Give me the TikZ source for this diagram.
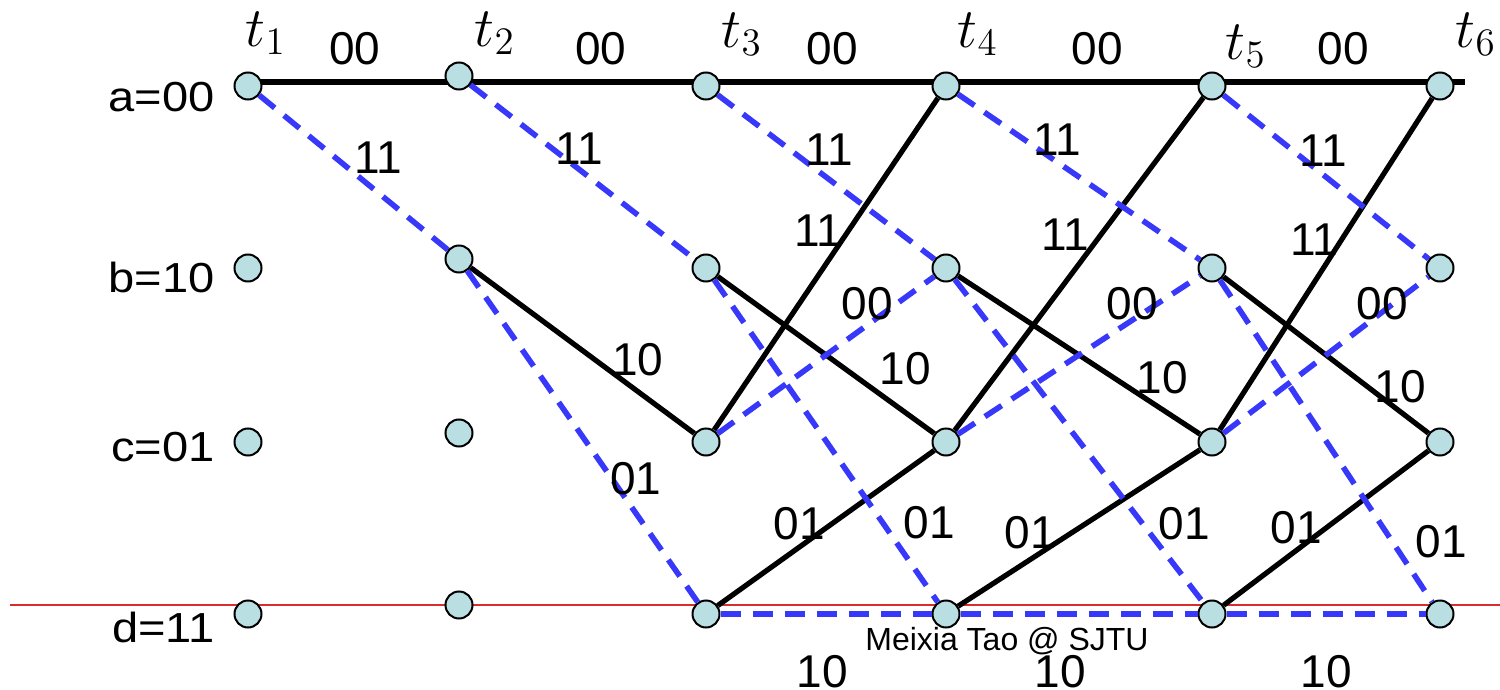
\documentclass[tikz,border=0pt]{standalone}
\usepackage[no-math]{fontspec}
\setmainfont{Liberation Sans}
\usepackage{graphicx}
\definecolor{nodefill}{RGB}{185,223,226}
\definecolor{dashblue}{RGB}{56,56,250}
\definecolor{redline}{RGB}{215,45,45}
\pgfdeclarelayer{bg}
\pgfsetlayers{bg,main}
\begin{document}
\begin{tikzpicture}[x=0.5pt,y=-0.5pt,
  st/.style={circle,draw=black,line width=1pt,fill=nodefill,minimum size=13.5pt,inner sep=0pt},
  solidedge/.style={draw=black,line width=2.6pt},
  dashedge/.style={draw=dashblue,line width=2.8pt,dash pattern=on 10pt off 6pt},
  lbl/.style={font=\fontsize{23}{27}\selectfont,inner sep=0pt},
  rowlbl/.style={font=\fontsize{21}{25}\selectfont,inner sep=0pt,anchor=east},
  tlbl/.style={font=\fontsize{20.74}{25}\selectfont,inner sep=0pt},
  credit/.style={font=\fontsize{16}{19}\selectfont,inner sep=0pt}]
\useasboundingbox (0,0) rectangle (1500,690);

% states
\node[st] (a1) at (248,86) {};
\node[st] (b1) at (248,268) {};
\node[st] (c1) at (248,442) {};
\node[st] (d1) at (248,614) {};
\node[st] (a2) at (459,76) {};
\node[st] (b2) at (459,259) {};
\node[st] (c2) at (459,433) {};
\node[st] (d2) at (459,605) {};
\node[st] (a3) at (706,86) {};
\node[st] (b3) at (706,268) {};
\node[st] (c3) at (706,442) {};
\node[st] (d3) at (706,614) {};
\node[st] (a4) at (946,86) {};
\node[st] (b4) at (946,268) {};
\node[st] (c4) at (946,442) {};
\node[st] (d4) at (946,614) {};
\node[st] (a5) at (1212,86) {};
\node[st] (b5) at (1212,268) {};
\node[st] (c5) at (1212,442) {};
\node[st] (d5) at (1212,614) {};
\node[st] (a6) at (1440,86) {};
\node[st] (b6) at (1440,268) {};
\node[st] (c6) at (1440,442) {};
\node[st] (d6) at (1440,614) {};

\coordinate (aend) at (1465,82);
\coordinate (rl) at (10,605);
\coordinate (rr) at (1500,605);

\begin{pgfonlayer}{bg}
  \draw[redline,line width=0.8pt] (rl) -- (rr);
  \draw[solidedge] (a1 |- aend) -- (aend);
\end{pgfonlayer}

% solid transitions
\draw[solidedge] (b2) -- (c3);
\draw[solidedge] (b3) -- (c4);
\draw[solidedge] (b4) -- (c5);
\draw[solidedge] (b5) -- (c6);
\draw[solidedge] (c3) -- (a4);
\draw[solidedge] (c4) -- (a5);
\draw[solidedge] (c5) -- (a6);
\draw[solidedge] (d3) -- (c4);
\draw[solidedge] (d4) -- (c5);
\draw[solidedge] (d5) -- (c6);

% dashed transitions
\draw[dashedge] (a1) -- (b2);
\draw[dashedge] (a2) -- (b3);
\draw[dashedge] (a3) -- (b4);
\draw[dashedge] (a4) -- (b5);
\draw[dashedge] (a5) -- (b6);
\draw[dashedge] (b2) -- (d3);
\draw[dashedge] (b3) -- (d4);
\draw[dashedge] (b4) -- (d5);
\draw[dashedge] (b5) -- (d6);
\draw[dashedge] (c3) -- (b4);
\draw[dashedge] (c4) -- (b5);
\draw[dashedge] (c5) -- (b6);
\draw[dashedge] (d3) -- (d4);
\draw[dashedge] (d4) -- (d5);
\draw[dashedge] (d5) -- (d6);

% time labels
\node[tlbl] (t1) at (266,33) {\scalebox{1.35}{$t_1$}};
\node[tlbl] (t2) at (495,33) {\scalebox{1.35}{$t_2$}};
\node[tlbl] (t3) at (742,34) {\scalebox{1.35}{$t_3$}};
\node[tlbl] (t4) at (978,34) {\scalebox{1.35}{$t_4$}};
\node[tlbl] (t5) at (1246,46) {\scalebox{1.35}{$t_5$}};
\node[tlbl] (t6) at (1476,34) {\scalebox{1.35}{$t_6$}};

% row labels
\node[rowlbl] (ra) at (215,97) {\scalebox{1.12}[1]{a=00}};
\node[rowlbl] (rb) at (215,277) {\scalebox{1.12}[1]{b=10}};
\node[rowlbl] (rc) at (215,447) {\scalebox{1.12}[1]{c=01}};
\node[rowlbl] (rd) at (215,627) {\scalebox{1.12}[1]{d=11}};

% branch labels
\node[lbl] (l00a) at (355,49) {00};
\node[lbl] (l00b) at (601,49) {00};
\node[lbl] (l00c) at (832,49) {00};
\node[lbl] (l00d) at (1097,49) {00};
\node[lbl] (l00e) at (1343,49) {00};

\node[lbl] (l11a) at (378,158) {11};
\node[lbl] (l11b) at (579,149) {11};
\node[lbl] (l11c) at (829,150) {11};
\node[lbl] (l11d) at (1057,140) {11};
\node[lbl] (l11e) at (1323,151) {11};

\node[lbl] (s11a) at (818,231) {11};
\node[lbl] (s11b) at (1065,235) {11};
\node[lbl] (s11c) at (1314,240) {11};

\node[lbl] (d00a) at (867,304) {00};
\node[lbl] (d00b) at (1132,304) {00};
\node[lbl] (d00c) at (1382,304) {00};

\node[lbl] (s10a) at (638,360) {10};
\node[lbl] (s10b) at (905,369) {10};
\node[lbl] (s10c) at (1162,378) {10};
\node[lbl] (s10d) at (1400,387) {10};

\node[lbl] (d01a) at (636,479) {01};
\node[lbl] (d01b) at (929,523) {01};
\node[lbl] (d01c) at (1184,524) {01};
\node[lbl] (d01d) at (1441,542) {01};

\node[lbl] (s01a) at (799,524) {01};
\node[lbl] (s01b) at (1030,533) {01};
\node[lbl] (s01c) at (1296,528) {01};

\node[lbl] (d10a) at (822,672) {10};
\node[lbl] (d10b) at (1060,672) {10};
\node[lbl] (d10c) at (1326,672) {10};

\node[credit] (cr) at (1007,641) {Meixia Tao @ SJTU};
\end{tikzpicture}
\end{document}
